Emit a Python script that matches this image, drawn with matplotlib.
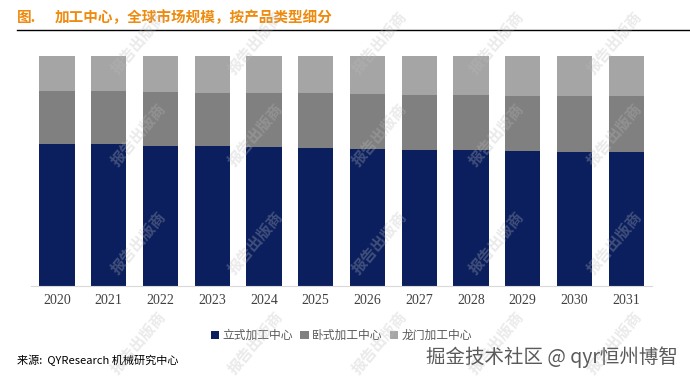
import matplotlib.pyplot as plt
import numpy as np

plt.rcParams['font.family'] = ['Noto Sans CJK SC', 'DejaVu Sans']

# 数据（百分比，从图中估读）
years = ['2020', '2021', '2022', '2023', '2024', '2025',
         '2026', '2027', '2028', '2029', '2030', '2031']
vertical = [61.7, 61.7, 60.9, 60.9, 60.4, 60.0, 59.6, 59.1, 59.1, 58.7, 58.3, 58.3]
horizontal = [23.0, 23.0, 23.5, 23.0, 23.5, 23.9, 23.9, 23.9, 23.9, 23.9, 24.3, 24.3]
gantry = [15.3, 15.3, 15.6, 16.1, 16.1, 16.1, 16.5, 17.0, 17.0, 17.4, 17.4, 17.4]
labels = ['立式加工中心', '卧式加工中心', '龙门加工中心']
colors = ['#0B1F5E', '#808080', '#A5A5A5']

fig = plt.figure(figsize=(6.9, 3.85), dpi=100)
ax = fig.add_axes([0.045, 0.257, 0.9, 0.597])

x = np.arange(len(years))
w = 0.68
ax.bar(x, vertical, w, color=colors[0], label=labels[0])
ax.bar(x, horizontal, w, bottom=vertical, color=colors[1], label=labels[1])
bottom2 = np.array(vertical) + np.array(horizontal)
ax.bar(x, gantry, w, bottom=bottom2, color=colors[2], label=labels[2])

ax.set_xlim(-0.5, len(years) - 0.5)
ax.set_ylim(0, 100)
ax.set_yticks([])
ax.set_xticks(x)
ax.set_xticklabels(years, fontfamily='Liberation Serif', fontsize=10, color='#404040')
ax.tick_params(axis='x', length=0, pad=6)
for s in ['top', 'right', 'left']:
    ax.spines[s].set_visible(False)
ax.spines['bottom'].set_color('#D9D9D9')

ax.legend(loc='upper center', bbox_to_anchor=(0.5, -0.14), ncol=3, frameon=False,
          fontsize=8.5, labelcolor='#595959', handlelength=0.7, handleheight=0.7,
          handletextpad=0.3, columnspacing=0.6)

# 标题
fig.text(0.025, 0.955, '图.', fontsize=10.5, color='#EE8A0E', fontweight='bold', va='center')
fig.text(0.08, 0.955, '加工中心，全球市场规模，按产品类型细分', fontsize=10.5,
         color='#EE8A0E', fontweight='bold', va='center')
fig.add_artist(plt.Line2D([0.025, 1.0], [0.922, 0.922], color='black', lw=1))

# 水印
for yy in [0.89, 0.65, 0.37, 0.11]:
    for xx in [0.2, 0.37, 0.55, 0.72, 0.89]:
        fig.text(xx, yy, '报告出版商', fontsize=11, fontweight='bold', color='#BBBBBB',
                 alpha=0.3, rotation=50, ha='center', va='center')

# 来源
fig.text(0.025, 0.065, '来源:  QYResearch 机械研究中心', fontsize=8, style='italic',
         color='black', va='center')
fig.text(0.982, 0.072, '掘金技术社区 @ qyr恒州博智', fontsize=14, color='#5A5A5A',
         ha='right', va='center')

plt.savefig('out.png', dpi=100)
